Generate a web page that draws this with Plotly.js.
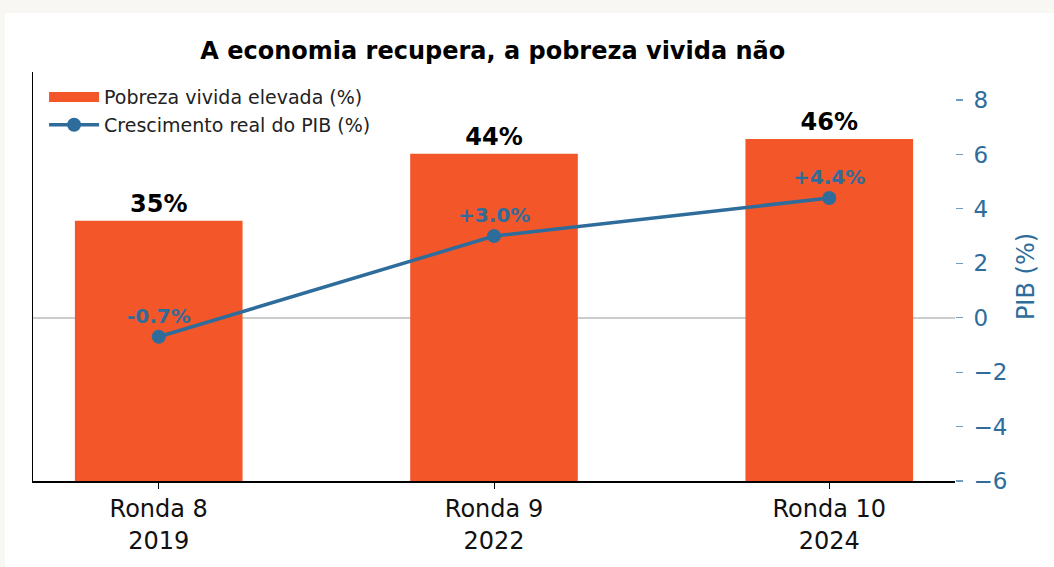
<!DOCTYPE html>
<html>
<head>
<meta charset="utf-8">
<script src="https://cdn.plot.ly/plotly-3.0.1.min.js"></script>
<style>
  html, body { margin:0; padding:0; background:#f8f7f3; width:1054px; height:567px; overflow:hidden; }
  #chart { position:absolute; left:5px; top:13px; width:1049px; height:554px; background:#ffffff; }
</style>
</head>
<body>
<div id="chart"></div>
<script>
const categories = ["Ronda 8<br>2019", "Ronda 9<br>2022", "Ronda 10<br>2024"];
const poverty = [35, 44, 46];
const gdp = [-0.7, 3.0, 4.4];
const seriesNames = ["Pobreza vivida elevada (%)", "Crescimento real do PIB (%)"];

const orange = "#f25629";
const blue = "#2e6d9b";
const font = "DejaVu Sans, sans-serif";

const bars = {
  type: "bar",
  x: categories,
  y: poverty,
  name: seriesNames[0],
  showlegend: false,
  marker: { color: orange },
  width: 0.5,
  text: poverty.map(v => v + "%"),
  textposition: "outside",
  cliponaxis: false,
  textfont: { family: font, size: 24, color: "#000000", weight: "bold" },
  hoverinfo: "skip"
};

// legend entry for the bars (wide rectangle patch like the reference)
const barLegend = {
  type: "scatter",
  mode: "lines",
  x: [null],
  y: [null],
  name: seriesNames[0],
  line: { color: orange, width: 13 },
  hoverinfo: "skip"
};

const line = {
  type: "scatter",
  mode: "lines+markers",
  x: categories,
  y: gdp,
  yaxis: "y2",
  name: seriesNames[1],
  line: { color: blue, width: 3.5 },
  marker: { color: blue, size: 14 },
  cliponaxis: false,
  hoverinfo: "skip"
};

const annotations = gdp.map((v, i) => ({
  x: categories[i],
  y: v,
  xref: "x",
  yref: "y2",
  yshift: 21,
  text: (v > 0 ? "+" : "") + v.toFixed(1) + "%",
  showarrow: false,
  font: { family: font, size: 20, color: blue, weight: "bold" }
}));

const layout = {
  width: 1049,
  height: 554,
  paper_bgcolor: "#ffffff",
  plot_bgcolor: "#ffffff",
  margin: { l: 28, r: 99, t: 59, b: 86 },
  font: { family: font, color: "#000000" },
  title: {
    text: "<b>A economia recupera, a pobreza vivida não</b>",
    font: { family: font, size: 24, color: "#000000" },
    x: 0.465, xanchor: "center",
    y: 0.933, yanchor: "middle"
  },
  showlegend: true,
  legend: {
    x: 0.012, y: 0.985, xanchor: "left", yanchor: "top",
    bgcolor: "rgba(255,255,255,0)",
    font: { family: font, size: 19, color: "#222222" },
    itemwidth: 50,
    traceorder: "normal"
  },
  xaxis: {
    type: "category",
    range: [-0.375, 2.375],
    showline: true, linecolor: "#000000", linewidth: 1.5,
    ticks: "outside", ticklen: 6, tickcolor: "#000000", tickwidth: 1,
    tickfont: { family: font, size: 24, color: "#111111" },
    showgrid: false, zeroline: false
  },
  yaxis: {
    range: [0, 55],
    showline: true, linecolor: "#000000", linewidth: 1.5,
    showticklabels: false, ticks: "",
    showgrid: false, zeroline: false,
    fixedrange: true
  },
  yaxis2: {
    overlaying: "y",
    side: "right",
    range: [-6, 9.03],
    tickvals: [-6, -4, -2, 0, 2, 4, 6, 8],
    ticktext: ["−6", "−4", "−2", "0", "2", "4", "6", "8"],
    ticks: "outside", ticklen: 7, tickcolor: "#6f9cc4", tickwidth: 1.2,
    ticklabelstandoff: 6,
    tickfont: { family: font, size: 23, color: blue },
    showline: false,
    showgrid: false,
    zeroline: true, zerolinecolor: "#cccccc", zerolinewidth: 2,
    title: { text: "PIB (%)", font: { family: font, size: 24, color: blue }, standoff: 10 }
  },
  annotations: annotations
};

Plotly.newPlot("chart", [bars, barLegend, line], layout, { displayModeBar: false, staticPlot: true });
</script>
</body>
</html>
